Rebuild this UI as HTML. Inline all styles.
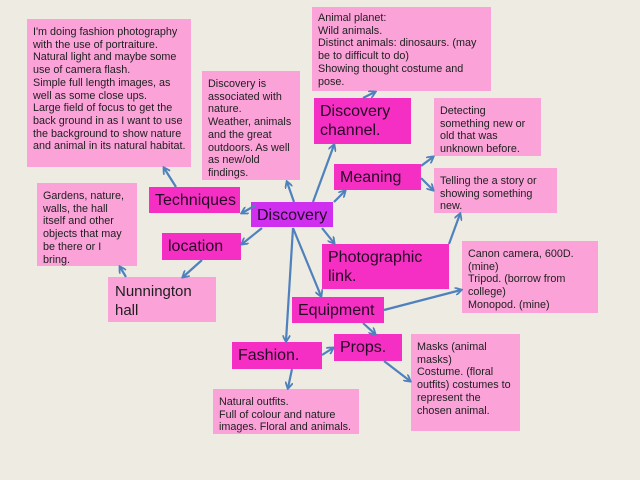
<!DOCTYPE html>
<html><head><meta charset="utf-8"><style>
html,body{margin:0;padding:0;width:640px;height:480px;overflow:hidden;background:#eeebe3;font-family:"Liberation Sans",sans-serif;}
.b{position:absolute;box-sizing:border-box;}
.l{background:#fba3d9;color:#1e1e1e;font-size:10.8px;line-height:12.7px;padding:7px 5px 5px 6px;}
.d{background:#f52fc3;color:#250825;font-size:16px;line-height:19px;padding:4px 6px;}
.p{background:#cf30f0;}
svg{position:absolute;left:0;top:0;}
</style></head><body>
<div class="b l" style="left:27px;top:19px;width:164px;height:148px;">I'm doing fashion photography with the use of portraiture. Natural light and maybe some use of camera flash.<br>Simple full length images, as well as some close ups.<br>Large field of focus to get the back ground in as I want to use the background to show nature and animal in its natural habitat.</div>
<div class="b l" style="left:202px;top:71px;width:98px;height:109px;">Discovery is associated with nature.<br>Weather, animals and the great outdoors. As well as new/old findings.</div>
<div class="b l" style="left:312px;top:7px;width:179px;height:84px;padding-top:5px;">Animal planet:<br>Wild animals.<br>Distinct animals: dinosaurs. (may be to difficult to do)<br>Showing thought costume and pose.</div>
<div class="b d" style="left:314px;top:98px;width:97px;height:46px;">Discovery channel.</div>
<div class="b l" style="left:434px;top:98px;width:107px;height:58px;">Detecting something new or old that was unknown before.</div>
<div class="b d" style="left:334px;top:164px;width:87px;height:26px;">Meaning</div>
<div class="b l" style="left:434px;top:168px;width:123px;height:45px;">Telling the a story or showing something new.</div>
<div class="b l" style="left:37px;top:183px;width:100px;height:83px;padding-right:12px;">Gardens, nature, walls, the hall itself and other objects that may be there or I bring.</div>
<div class="b d" style="left:149px;top:187px;width:91px;height:26px;">Techniques</div>
<div class="b d p" style="left:251px;top:202px;width:82px;height:25px;">Discovery</div>
<div class="b d" style="left:162px;top:233px;width:79px;height:27px;">location</div>
<div class="b d" style="left:322px;top:244px;width:127px;height:45px;">Photographic link.</div>
<div class="b l" style="left:462px;top:241px;width:136px;height:72px;">Canon camera, 600D. (mine)<br>Tripod. (borrow from college)<br>Monopod. (mine)</div>
<div class="b l" style="left:108px;top:277px;width:108px;height:45px;font-size:15px;line-height:19px;padding:5px 7px;">Nunnington hall</div>
<div class="b d" style="left:292px;top:297px;width:92px;height:26px;">Equipment</div>
<div class="b d" style="left:334px;top:334px;width:68px;height:27px;">Props.</div>
<div class="b d" style="left:232px;top:342px;width:90px;height:27px;">Fashion.</div>
<div class="b l" style="left:411px;top:334px;width:109px;height:97px;">Masks (animal masks)<br>Costume. (floral outfits) costumes to represent the chosen animal.</div>
<div class="b l" style="left:213px;top:389px;width:146px;height:45px;">Natural outfits.<br>Full of colour and nature images. Floral and animals.</div>
<svg width="640" height="480"><defs><marker id="a" markerWidth="8" markerHeight="8" refX="6" refY="4" orient="auto" markerUnits="userSpaceOnUse"><path d="M0,0 L7,4 L0,8" fill="none" stroke="#4f81bd" stroke-width="1.8"/></marker></defs>
<g stroke="#4f81bd" stroke-width="2.2" fill="none" marker-end="url(#a)">
<line x1="176" y1="187" x2="164" y2="168"/>
<line x1="256" y1="205" x2="242" y2="213"/>
<line x1="294" y1="202" x2="287" y2="182"/>
<line x1="313" y1="202" x2="334" y2="145"/>
<line x1="363" y1="98" x2="375" y2="92"/>
<line x1="334" y1="202" x2="345" y2="191"/>
<line x1="421" y1="166" x2="433" y2="157"/>
<line x1="421" y1="178" x2="433" y2="190"/>
<line x1="449" y1="244" x2="460" y2="214"/>
<line x1="262" y1="228" x2="242" y2="244"/>
<line x1="202" y1="260" x2="183" y2="277"/>
<line x1="126" y1="277" x2="120" y2="267"/>
<line x1="322" y1="228" x2="334" y2="243"/>
<line x1="293" y1="228" x2="321" y2="296"/>
<line x1="293" y1="228" x2="286" y2="341"/>
<line x1="384" y1="310" x2="461" y2="290"/>
<line x1="363" y1="323" x2="375" y2="334"/>
<line x1="322" y1="355" x2="333" y2="348"/>
<line x1="292" y1="369" x2="288" y2="388"/>
<line x1="384" y1="361" x2="410" y2="381"/>
</g></svg>
</body></html>
